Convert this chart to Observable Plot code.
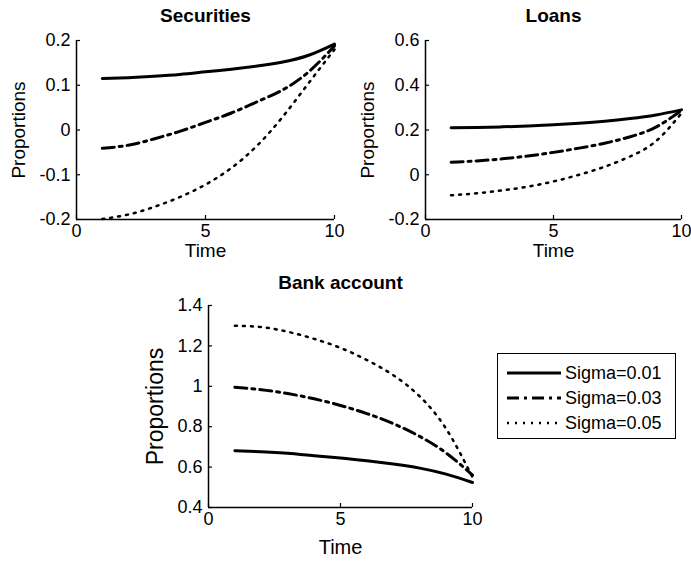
<!DOCTYPE html>
<html><head><meta charset="utf-8">
<script src="https://cdn.jsdelivr.net/npm/d3@7"></script>
<script src="https://cdn.jsdelivr.net/npm/@observablehq/plot@0.6"></script>
<style>
body{margin:0;background:#fff;}
#root{position:relative;width:691px;height:563px;font-family:"Liberation Sans",Arial,sans-serif;overflow:hidden;}
.panel{position:absolute;}
#legend{position:absolute;left:497px;top:353px;width:179px;height:86px;border:1.5px solid #000;background:#fff;font-size:18px;color:#000;box-sizing:border-box;}
#legend .row{position:absolute;left:8px;height:22px;display:flex;align-items:center;}
#legend svg{margin-right:3px;}
</style></head><body><div id="root"></div>
<script>
const time = [1, 2, 3, 4, 5, 6, 7, 8, 9, 10];
const sigmas = ["Sigma=0.01", "Sigma=0.03", "Sigma=0.05"];
const xTicks = [0, 5, 10];

const securities01 = [0.115, 0.117, 0.120, 0.124, 0.130, 0.136, 0.143, 0.152, 0.167, 0.192];
const securities03 = [-0.041, -0.034, -0.020, -0.003, 0.017, 0.038, 0.063, 0.090, 0.130, 0.188];
const securities05 = [-0.199, -0.189, -0.172, -0.150, -0.122, -0.085, -0.035, 0.030, 0.105, 0.180];
const securitiesTicks = [-0.2, -0.1, 0, 0.1, 0.2];

const loans01 = [0.210, 0.211, 0.214, 0.218, 0.223, 0.230, 0.239, 0.251, 0.267, 0.290];
const loans03 = [0.056, 0.062, 0.071, 0.084, 0.100, 0.119, 0.141, 0.170, 0.213, 0.288];
const loans05 = [-0.092, -0.083, -0.070, -0.053, -0.030, 0.000, 0.036, 0.082, 0.150, 0.275];
const loansTicks = [-0.2, 0, 0.2, 0.4, 0.6];

const bank01 = [0.681, 0.676, 0.668, 0.656, 0.645, 0.631, 0.615, 0.595, 0.565, 0.524];
const bank03 = [0.995, 0.983, 0.964, 0.938, 0.905, 0.865, 0.815, 0.752, 0.670, 0.560];
const bank05 = [1.300, 1.293, 1.270, 1.235, 1.190, 1.130, 1.055, 0.950, 0.790, 0.550];
const bankTicks = [0.4, 0.6, 0.8, 1, 1.2, 1.4];

const styles = [
  {strokeWidth: 3, strokeDasharray: null},
  {strokeWidth: 3, strokeDasharray: "12,5,3,5"},
  {strokeWidth: 2.5, strokeDasharray: "2,6"}
];

function rows(series) {
  const out = [];
  series.forEach((vals, i) => vals.forEach((v, j) => out.push({time: time[j], value: v, sigma: sigmas[i]})));
  return out;
}

const FONT = '"Liberation Sans", Arial, sans-serif';

function panel(o) {
  const data = rows(o.series);
  const fmt = d => String(d);
  const marks = [
    Plot.ruleX([0], {stroke: "#000", strokeWidth: 1.5}),
    Plot.ruleY([o.yTicks[0]], {stroke: "#000", strokeWidth: 1.5}),
    Plot.axisX({ticks: xTicks, tickSize: -4, tickPadding: 9, tickFormat: fmt, label: null, fontSize: o.tickSize, strokeWidth: 1.2}),
    Plot.axisY({ticks: o.yTicks, tickSize: -4, tickPadding: 10, tickFormat: fmt, label: null, fontSize: o.tickSize, strokeWidth: 1.2}),
    ...sigmas.map((s, i) => Plot.line(data.filter(d => d.sigma === s), {
      x: "time", y: "value", stroke: "#000", curve: "natural",
      strokeWidth: styles[i].strokeWidth, strokeDasharray: styles[i].strokeDasharray
    })),
    Plot.text([o.title], {frameAnchor: "top", dy: o.titleDy, textAnchor: "middle", lineAnchor: "middle", fontWeight: "bold", fontSize: 19}),
    Plot.text(["Proportions"], {frameAnchor: "left", dx: o.ylabelDx, rotate: -90, textAnchor: "middle", lineAnchor: "middle", fontSize: o.ylabelSize}),
    Plot.text(["Time"], {frameAnchor: "bottom", dy: o.xlabelDy, textAnchor: "middle", lineAnchor: "middle", fontSize: o.xlabelSize})
  ];
  const svg = Plot.plot({
    width: o.width, height: o.height,
    marginTop: o.mt, marginRight: o.mr, marginBottom: o.mb, marginLeft: o.ml,
    style: {fontFamily: FONT, color: "#000", background: "transparent", overflow: "visible"},
    x: {domain: [0, 10]},
    y: {domain: [o.yTicks[0], o.yTicks[o.yTicks.length - 1]]},
    marks
  });
  svg.classList.add("panel");
  svg.style.left = o.left + "px";
  svg.style.top = o.top + "px";
  svg.style.position = "absolute";
  document.getElementById("root").appendChild(svg);
}

panel({title: "Securities", series: [securities01, securities03, securities05], yTicks: securitiesTicks,
  left: 0, top: 0, width: 345, height: 280, mt: 40, mr: 11, mb: 61, ml: 76,
  titleDy: -25, ylabelDx: -58, xlabelDy: 31, tickSize: 18, ylabelSize: 19, xlabelSize: 19});
panel({title: "Loans", series: [loans01, loans03, loans05], yTicks: loansTicks,
  left: 345, top: 0, width: 346, height: 280, mt: 40, mr: 10, mb: 61, ml: 80,
  titleDy: -25, ylabelDx: -58, xlabelDy: 31, tickSize: 18, ylabelSize: 19, xlabelSize: 19});
panel({title: "Bank account", series: [bank01, bank03, bank05], yTicks: bankTicks,
  left: 130, top: 260, width: 350, height: 303, mt: 45, mr: 8, mb: 56, ml: 78,
  titleDy: -23, ylabelDx: -53, xlabelDy: 40, tickSize: 18, ylabelSize: 23, xlabelSize: 20});

// legend
const legend = document.createElement("div");
legend.id = "legend";
sigmas.forEach((s, i) => {
  const row = document.createElement("div");
  row.className = "row";
  row.style.top = (8 + i * 25) + "px";
  const ns = "http://www.w3.org/2000/svg";
  const sv = document.createElementNS(ns, "svg");
  sv.setAttribute("width", 56); sv.setAttribute("height", 10);
  const ln = document.createElementNS(ns, "line");
  ln.setAttribute("x1", 1); ln.setAttribute("x2", 55); ln.setAttribute("y1", 5); ln.setAttribute("y2", 5);
  ln.setAttribute("stroke", "#000");
  ln.setAttribute("stroke-width", styles[i].strokeWidth);
  if (styles[i].strokeDasharray) ln.setAttribute("stroke-dasharray", styles[i].strokeDasharray);
  sv.appendChild(ln);
  row.appendChild(sv);
  const t = document.createElement("span");
  t.textContent = s;
  row.appendChild(t);
  legend.appendChild(row);
});
document.getElementById("root").appendChild(legend);
</script></body></html>
